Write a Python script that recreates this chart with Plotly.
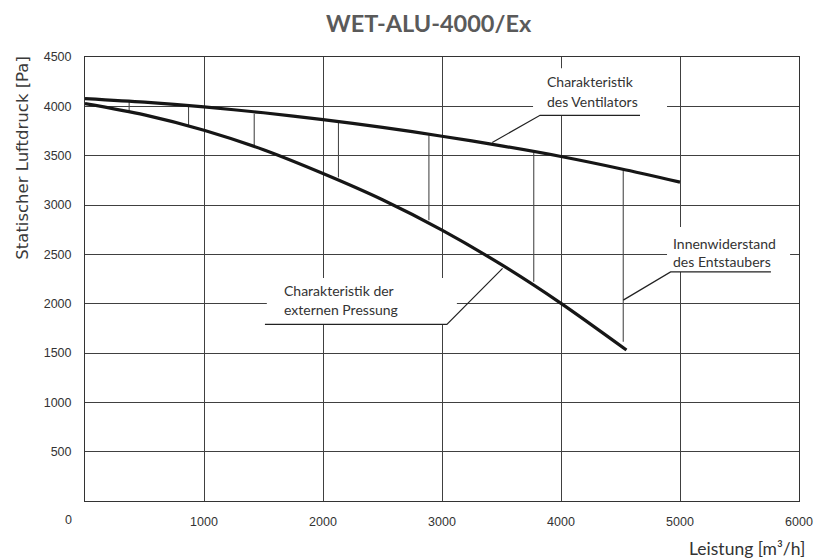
import plotly.graph_objects as go

# ---------------- data ----------------
fan_x = [0, 500, 1000, 1500, 2000, 2500, 3000, 3500, 4000, 4500, 5000]
fan_y = [4079, 4042, 3994, 3935, 3866, 3787, 3697, 3600, 3492, 3368, 3232]

ext_x = [0, 500, 1000, 1500, 2000, 2500, 3000, 3500, 4000, 4550]
ext_y = [4028, 3914, 3758, 3560, 3319, 3053, 2745, 2395, 2003, 1530]

res_x = [371, 870, 1422, 2130, 2890, 3771, 4523]
res_top = [4054, 4004, 3927, 3836, 3707, 3528, 3370]
res_bot = [3950, 3808, 3606, 3280, 2846, 2221, 1615]

x_ticks = [1000, 2000, 3000, 4000, 5000, 6000]
y_ticks = [500, 1000, 1500, 2000, 2500, 3000, 3500, 4000, 4500]

title_text = "WET-ALU-4000/Ex"
x_title = "Leistung [m³/h]"
y_title = "Statischer Luftdruck [Pa]"

# label blocks: lines, left x, line y's, box (x0,x1,y0,y1), leader path points
labels = [
    dict(lines=["Charakteristik", "des Ventilators"], x=3865, ys=[4247, 4054],
         box=(3765, 4891, 3909, 4385),
         leader=[(4664, 3909), (3824, 3909), (3422, 3633)]),
    dict(lines=["Charakteristik der", "externen Pressung"], x=1655, ys=[2137, 1945],
         box=(1528, 3125, 1793, 2259),
         leader=[(1512, 1790), (3041, 1790), (3509, 2357)]),
    dict(lines=["Innenwiderstand", "des Entstaubers"], x=4924, ys=[2611, 2424],
         box=(4891, 5925, 2322, 2778),
         leader=[(5764, 2322), (4921, 2322), (4523, 2036)]),
]

# ---------------- figure ----------------
fig = go.Figure()

# internal resistance vertical lines
rx, ry = [], []
for x, t, b in zip(res_x, res_top, res_bot):
    rx += [x, x, None]
    ry += [t, b, None]
fig.add_trace(go.Scatter(x=rx, y=ry, mode="lines",
                         line=dict(color="#4a4a4a", width=1.1),
                         hoverinfo="skip", showlegend=False))

fig.add_trace(go.Scatter(x=fan_x, y=fan_y, mode="lines",
                         line=dict(color="#161616", width=3.2, shape="spline", smoothing=0.8),
                         showlegend=False))
fig.add_trace(go.Scatter(x=ext_x, y=ext_y, mode="lines",
                         line=dict(color="#161616", width=3.2, shape="spline", smoothing=0.8),
                         showlegend=False))

shapes = []
annotations = []
lab_font = dict(family="Lato, 'Open Sans', sans-serif", size=14, color="#333333")
for lab in labels:
    x0, x1, y0, y1 = lab["box"]
    shapes.append(dict(type="rect", xref="x", yref="y", x0=x0, x1=x1, y0=y0, y1=y1,
                       fillcolor="white", line=dict(width=0), layer="between"))
    pts = lab["leader"]
    path = "M " + " L ".join(f"{px},{py}" for px, py in pts)
    shapes.append(dict(type="path", xref="x", yref="y", path=path,
                       line=dict(color="#222222", width=1.2), layer="above"))
    for txt, yy in zip(lab["lines"], lab["ys"]):
        annotations.append(dict(x=lab["x"], y=yy, xref="x", yref="y", text=txt,
                                showarrow=False, xanchor="left", yanchor="middle",
                                font=lab_font))

# title
annotations.append(dict(x=0.4818, y=1.0777, xref="paper", yref="paper", text=title_text,
                        showarrow=False, xanchor="center", yanchor="middle",
                        font=dict(family="Lato", size=23.5, color="#5a5a5a", weight="bold")))
# axis titles
annotations.append(dict(x=-0.0887, y=1.0, xref="paper", yref="paper", text=y_title,
                        showarrow=False, textangle=-90, xanchor="center", yanchor="top",
                        yshift=3,
                        font=dict(family="'DejaVu Sans', sans-serif", size=16.5, color="#3a3a3a")))
annotations.append(dict(x=1.0112, y=-0.108, xref="paper", yref="paper", text=x_title,
                        showarrow=False, xanchor="right", yanchor="middle",
                        font=dict(family="Lato", size=17.5, color="#333333")))
# the x-axis "0" label, set off to the left of the origin
annotations.append(dict(x=0, y=0, xref="x", yref="paper", text="0", showarrow=False,
                        xanchor="center", yanchor="middle", xshift=-17, yshift=-18.5,
                        font=dict(family="'Liberation Sans', Arial, sans-serif", size=12.5,
                                  color="#333333")))

tick_font = dict(family="'Liberation Sans', Arial, sans-serif", size=12.5, color="#333333")

fig.update_layout(
    width=818, height=559,
    margin=dict(l=85, r=19, t=57, b=58, autoexpand=False),
    paper_bgcolor="white", plot_bgcolor="white",
    shapes=shapes, annotations=annotations,
    xaxis=dict(range=[0, 6000], tickvals=x_ticks, ticktext=[str(v) for v in x_ticks],
               showgrid=True, gridcolor="#404040", gridwidth=1, zeroline=False,
               showline=True, linecolor="#333333", linewidth=1, mirror=True,
               ticks="", ticklabelstandoff=9, tickfont=tick_font, fixedrange=True),
    yaxis=dict(range=[0, 4500], tickvals=y_ticks, ticktext=[str(v) for v in y_ticks],
               showgrid=True, gridcolor="#404040", gridwidth=1, zeroline=False,
               showline=True, linecolor="#333333", linewidth=1, mirror=True,
               ticks="", ticklabelstandoff=10, tickfont=tick_font, fixedrange=True),
    showlegend=False,
)

fig.write_html("out.html", config={"displayModeBar": False},
               post_script="document.body.style.margin='0px';document.body.style.overflow='hidden';")
